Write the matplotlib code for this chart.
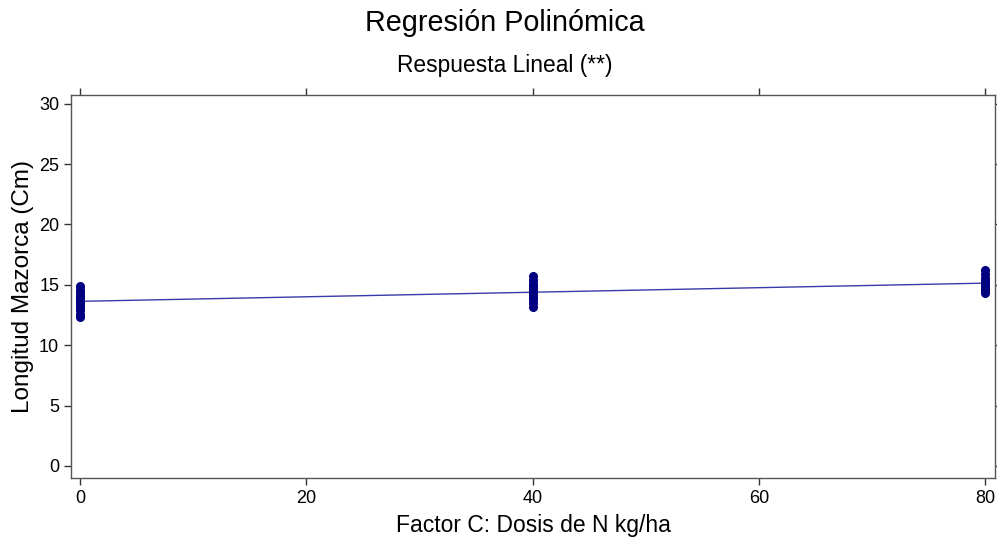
import matplotlib
matplotlib.use("Agg")
import matplotlib.pyplot as plt
import numpy as np

plt.rcParams['font.family'] = ['Liberation Sans', 'DejaVu Sans']

# dosis de N (kg/ha) y longitud de mazorca (cm)
dosis = [0, 40, 80]
long_0 = [12.3, 12.6, 12.9, 13.1, 13.3, 13.5, 13.7, 13.9, 14.1, 14.3, 14.6, 14.9]
long_40 = [13.2, 13.5, 13.8, 14.0, 14.2, 14.4, 14.5, 14.7, 14.9, 15.1, 15.4, 15.7]
long_80 = [14.3, 14.5, 14.6, 14.7, 14.8, 15.0, 15.1, 15.2, 15.4, 15.6, 15.9, 16.2]

x_ticks = [0, 20, 40, 60, 80]
y_ticks = [0, 5, 10, 15, 20, 25, 30]

xs = []
ys = []
for d, vals in zip(dosis, [long_0, long_40, long_80]):
    xs += [d] * len(vals)
    ys += vals
xs = np.array(xs)
ys = np.array(ys)

b1, b0 = np.polyfit(xs, ys, 1)

fig = plt.figure(figsize=(9.97, 5.45), dpi=100)
ax = fig.add_axes([0.0712, 0.123, 0.9268, 0.703])

ax.plot(xs, ys, 'o', color='#000080', markersize=5.5, zorder=3)
xl = np.array([0, 80])
ax.plot(xl, b0 + b1 * xl, color='#3a3aaa', linewidth=1, zorder=2)

ax.set_xlim(-0.8, 80.88)
ax.set_ylim(-1.0, 30.74)
ax.set_xticks(x_ticks)
ax.set_yticks(y_ticks)
ax.tick_params(axis='both', direction='out', length=5, width=1, color='#333333',
               labelsize=13, top=True, right=True, labeltop=False, labelright=False)
for s in ax.spines.values():
    s.set_color('#555555')
    s.set_linewidth(1)

ax.set_xlabel('Factor C: Dosis de N kg/ha', fontsize=16.5, labelpad=5)
ax.set_ylabel('Longitud Mazorca (Cm)', fontsize=17.5, labelpad=4)

fig.text(0.5065, 0.958, 'Regresión Polinómica', ha='center', va='center', fontsize=20.7)
fig.text(0.5065, 0.88, 'Respuesta Lineal (**)', ha='center', va='center', fontsize=16.4)

fig.savefig('out.png', dpi=100)
